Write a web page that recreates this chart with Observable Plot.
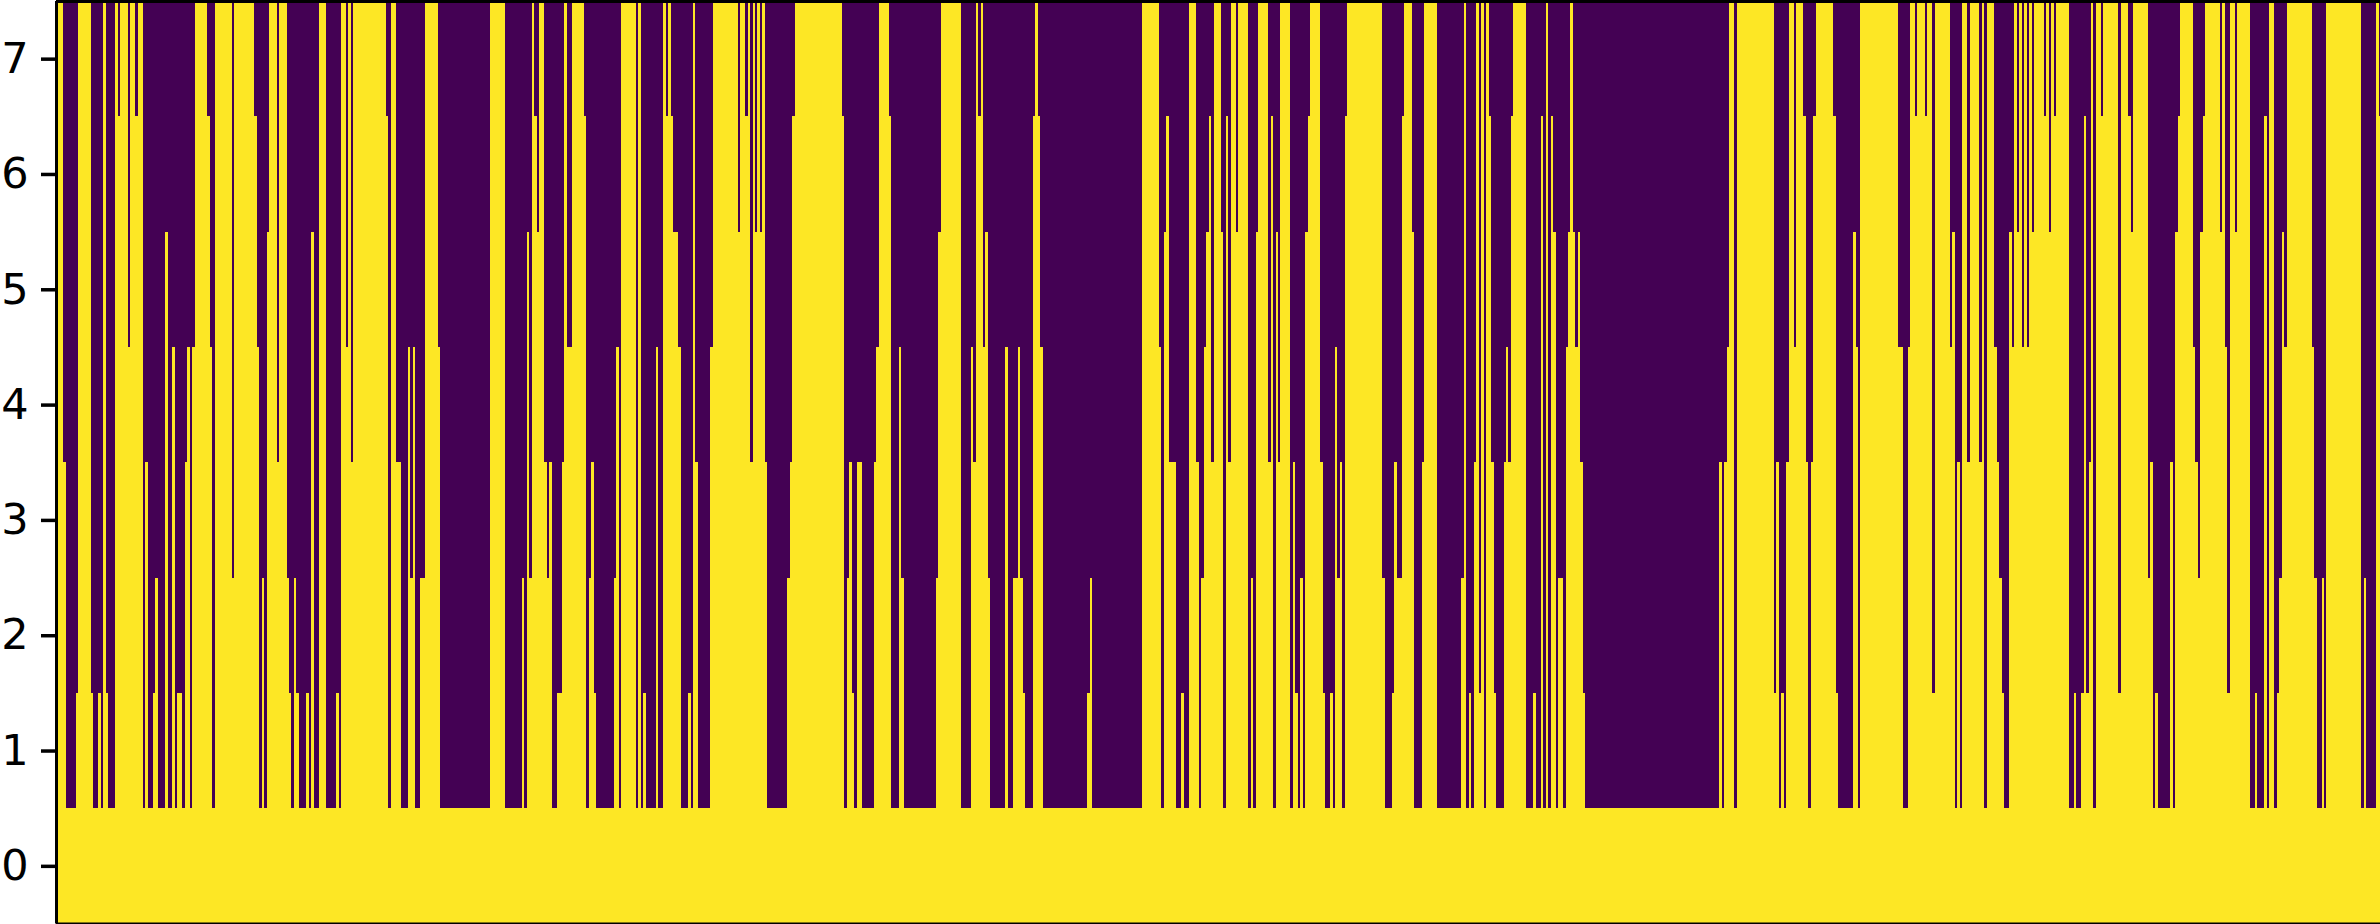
<!DOCTYPE html>
<html>
<head>
<meta charset="utf-8">
<script src="https://cdn.jsdelivr.net/npm/d3@7"></script>
<script src="https://cdn.jsdelivr.net/npm/@observablehq/plot@0.6"></script>
<style>html,body{margin:0;padding:0;background:#fff}svg{display:block}</style>
</head>
<body>
<div id="chart"></div>
<script>
const yTicks = [0,1,2,3,4,5,6,7];
const purple = "#440154", yellow = "#fde725";
const domainStart = 168, domainEnd = 7140;
const sectionOffsets = [0,780,1560,2340,3120,3900,4680,5460,6300];
// each section: [sample position within section, highest filled row]
const section1 = [[174,7],[189,3],[198,0],[228,1],[234,7],[273,1],[279,0],[294,1],[303,0],[309,7],[318,1],[324,0],[345,7],[354,6],[360,7],[384,4],[390,7],[405,6],[414,7],[429,0],[435,3],[444,0],[459,1],[465,2],[474,0],[495,5],[504,0],[516,4],[525,0],[531,1],[546,0],[555,3],[561,4],[570,0],[576,4],[585,7],[621,6],[630,4],[636,0],[645,7],[696,2],[702,7],[762,6],[771,4],[777,0]];
const section2 = [[0,0],[6,2],[12,0],[21,5],[27,7],[51,3],[57,7],[81,2],[87,1],[93,0],[102,2],[108,1],[117,0],[138,1],[147,0],[153,5],[162,0],[177,7],[198,0],[228,1],[237,0],[243,7],[258,4],[264,7],[273,3],[279,7],[378,6],[384,0],[393,7],[408,3],[423,0],[444,4],[450,2],[459,4],[465,0],[480,2],[495,7],[534,4],[540,0],[690,7],[735,0]];
const section3 = [[0,0],[6,2],[12,0],[21,5],[27,2],[36,7],[42,6],[51,5],[57,7],[72,3],[81,2],[87,3],[96,0],[111,1],[126,3],[132,7],[141,4],[156,7],[192,6],[198,0],[207,2],[213,3],[222,1],[228,0],[282,2],[288,4],[297,0],[303,7],[348,0],[354,7],[363,0],[369,1],[378,0],[408,4],[414,0],[429,7],[438,6],[444,7],[453,6],[459,5],[474,4],[483,0],[504,1],[513,0],[519,7],[525,3],[534,0],[570,4],[579,7],[654,5],[660,7],[675,6],[684,7],[690,3],[699,7],[705,5],[711,7],[720,5],[726,7],[735,3],[741,0]];
const section4 = [[0,0],[21,2],[30,3],[36,6],[45,7],[186,6],[192,0],[201,2],[207,3],[216,1],[222,0],[231,3],[246,0],[282,3],[288,4],[297,7],[327,6],[333,0],[357,4],[363,2],[372,0],[468,2],[474,5],[483,7],[543,0],[573,4],[579,3],[588,7],[594,6],[603,7],[609,4],[615,5],[624,2],[630,0],[675,4],[684,0],[699,2],[714,4],[720,2],[729,1],[735,0],[759,6],[765,7],[774,6]];
const section5 = [[0,4],[9,0],[141,1],[150,2],[156,0],[306,7],[357,4],[363,0],[372,5],[378,6],[387,3],[408,0],[423,1],[432,0],[447,7],[468,3],[477,0],[483,2],[492,4],[498,5],[507,6],[513,3],[522,7],[543,5],[549,0],[558,6],[564,3],[573,7],[588,5],[594,7],[624,0],[633,2],[639,0],[648,5],[654,7],[684,3],[693,6],[699,0],[708,5],[714,3],[720,7],[750,0],[759,3],[765,1],[774,0]];
const section6 = [[0,2],[9,0],[15,5],[24,6],[30,7],[60,3],[69,1],[75,0],[90,1],[99,0],[105,4],[111,2],[120,3],[126,0],[135,6],[141,7],[246,2],[255,0],[276,1],[282,3],[291,2],[306,6],[312,7],[336,5],[342,0],[366,3],[372,7],[411,0],[483,2],[492,7],[498,0],[507,1],[513,0],[522,3],[528,7],[537,1],[543,7],[552,0],[558,7],[567,6],[573,3],[582,1],[588,0],[612,3],[618,4],[624,3],[633,6],[639,7],[678,0],[699,1],[708,0],[723,6],[729,0],[738,7],[744,0],[753,6],[759,5],[768,0],[774,2]];
const section7 = [[0,2],[9,0],[18,4],[24,5],[30,7],[39,5],[45,4],[54,5],[60,3],[69,1],[75,0],[477,3],[486,0],[492,3],[501,4],[507,7],[522,0],[531,7],[642,1],[648,3],[657,0],[663,1],[672,0],[678,3],[687,7],[702,4],[708,7],[729,6],[738,3],[744,0],[753,3],[759,6],[768,7]];
const section8 = [[0,7],[39,6],[48,1],[54,0],[99,5],[108,4],[114,0],[120,7],[234,4],[249,0],[264,4],[270,7],[285,6],[291,7],[315,6],[321,7],[336,1],[345,7],[390,4],[396,5],[405,0],[411,3],[420,0],[426,7],[441,3],[450,7],[477,3],[486,7],[492,0],[501,7],[522,4],[531,3],[537,2],[546,1],[552,0],[567,5],[576,4],[582,7],[591,5],[597,7],[606,4],[612,7],[621,4],[627,7],[636,5],[642,7],[672,6],[678,7],[687,5],[693,7],[702,6],[708,7],[747,0],[762,1],[768,0],[783,1],[792,6],[798,1],[807,3],[813,7],[819,0],[828,7]];
const section9 = [[0,7],[3,6],[9,7],[54,1],[63,7],[84,6],[93,5],[99,7],[144,2],[150,3],[159,0],[165,1],[174,0],[210,3],[219,0],[225,5],[234,6],[240,7],[279,4],[285,3],[294,2],[300,5],[309,6],[315,7],[360,5],[366,7],[375,4],[381,1],[390,7],[405,5],[411,7],[450,0],[465,1],[471,0],[492,6],[501,0],[507,7],[522,0],[531,1],[537,2],[546,5],[552,4],[561,7],[636,4],[642,2],[651,0],[666,2],[672,0],[678,7],[783,0],[792,2],[798,0],[828,7],[837,6]];

const sections = [section1,section2,section3,section4,section5,section6,section7,section8,section9];
const steps = sections.flatMap((s,i) => s.map(([p,level]) => ({start: p + sectionOffsets[i], level})));
const runs = steps.map((d,i) => ({
  x1: i === 0 ? domainStart : d.start,
  x2: i < steps.length - 1 ? steps[i+1].start : domainEnd,
  level: d.level
}));

const chart = Plot.plot({
  width: 2380,
  height: 924,
  marginLeft: 56,
  marginRight: 0,
  marginTop: 1,
  marginBottom: 0.5,
  x: {domain: [domainStart, domainEnd], axis: null},
  y: {domain: [-0.5, 7.5]},
  marks: [
    Plot.rect([{x1: domainStart, x2: domainEnd}], {x1: "x1", x2: "x2", y1: () => -0.5, y2: () => 7.5, fill: purple, shapeRendering: "crispEdges"}),
    Plot.rect(runs, {x1: "x1", x2: "x2", y1: () => -0.5, y2: d => d.level + 0.5, fill: yellow, shapeRendering: "crispEdges"}),
    Plot.axisY({ticks: yTicks, tickSize: 15, tickPadding: 13, fontSize: 43, fontFamily: "DejaVu Sans", strokeWidth: 3.5, color: "#000", label: null}),
    Plot.ruleX([domainStart], {stroke: "#000", strokeWidth: 3}),
    Plot.ruleY([7.5, -0.5], {stroke: "#000", strokeWidth: 3})
  ]
});
chart.style.color = "#000";
document.getElementById("chart").appendChild(chart);
</script>
</body>
</html>
